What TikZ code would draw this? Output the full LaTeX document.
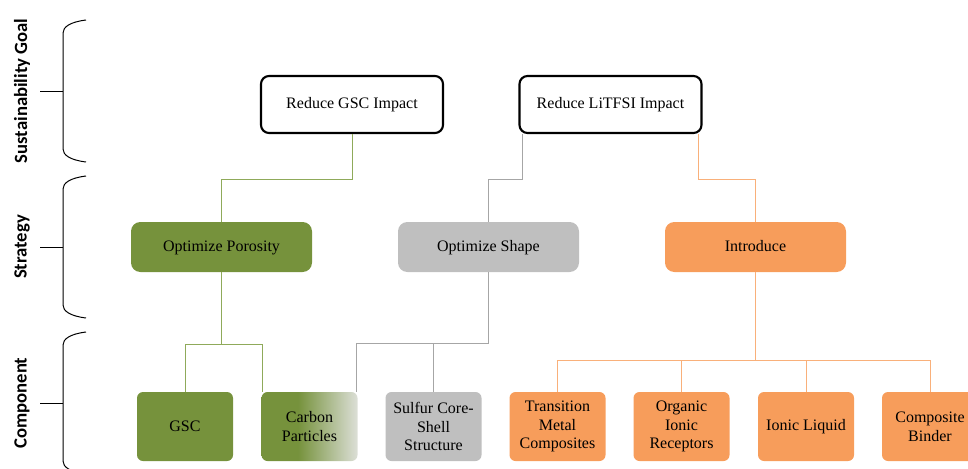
\documentclass[tikz,border=0pt]{standalone}
\usepackage{fontspec}
\setmainfont{Liberation Serif}
\newfontfamily\sidefont{Carlito}
\usepackage{xcolor}
\definecolor{grn}{HTML}{76923C}
\definecolor{grnline}{HTML}{8FAA5A}
\definecolor{gry}{HTML}{BFBFBF}
\definecolor{gryline}{HTML}{A6A6A6}
\definecolor{org}{HTML}{F79D5B}
\definecolor{orgline}{HTML}{F9B07A}
\definecolor{pale}{HTML}{DCDFD7}
\pgfdeclarehorizontalshading{carbonfade}{100bp}{color(0bp)=(grn); color(25bp)=(grn); color(44bp)=(grn); color(75bp)=(pale); color(100bp)=(pale)}

\begin{document}
\begin{tikzpicture}[x=0.75pt,y=-0.75pt]
					\tikzstyle{goal} = [draw=black,line width=1.6pt,rounded corners=6pt,minimum width=136.5pt,minimum height=42.75pt,inner sep=0pt,text height=8.5pt,text depth=2.5pt,font=\fontsize{12}{14}\selectfont]
					\tikzstyle{strat} = [rounded corners=7pt,minimum width=135.75pt,minimum height=37.5pt,inner sep=0pt,text height=8.5pt,text depth=2.5pt,font=\fontsize{12}{14}\selectfont]
					\tikzstyle{comp} = [rounded corners=4.5pt,minimum width=72pt,minimum height=51.75pt,inner sep=0pt,align=center,font=\fontsize{12}{14}\selectfont]
					\tikzstyle{side} = [rotate=90,font=\sidefont\bfseries\fontsize{14}{16}\selectfont]
					\tikzstyle{brace} = [draw=black,line width=0.75pt]
					\tikzstyle{gedge} = [draw=grnline,line width=0.75pt]
					\tikzstyle{sedge} = [draw=gryline,line width=0.75pt]
					\tikzstyle{oedge} = [draw=orgline,line width=0.75pt]
					\clip (0,0) rectangle (968,468);
					\node[side] (lgoal) at (22,91) {Sustainability Goal};
					\node[side] (lstrat) at (22,247) {Strategy};
					\node[side] (lcomp) at (22,403) {Component};
					\draw[brace] (86,20) .. controls (70,22) and (63,27) .. (63,33) -- (63,149) .. controls (63,155) and (70,160) .. (86,162);
					\draw[brace] (40,91) -- (63,91);
					\draw[brace] (86,176) .. controls (70,178) and (63,183) .. (63,189) -- (63,305) .. controls (63,311) and (70,316) .. (86,318);
					\draw[brace] (40,247) -- (63,247);
					\draw[brace] (86,332) .. controls (70,334) and (63,339) .. (63,345) -- (63,461) .. controls (63,467) and (70,472) .. (86,474);
					\draw[brace] (40,403) -- (63,403);
					\node[goal] (g1) at (352,104.5) {Reduce GSC Impact};
					\node[goal] (g2) at (610.5,104.5) {Reduce LiTFSI Impact};
					\node[strat,fill=grn] (s1) at (221.5,247) {Optimize Porosity};
					\node[strat,fill=gry] (s2) at (488.5,247) {Optimize Shape};
					\node[strat,fill=org] (s3) at (755.5,247) {Introduce};
					\node[comp,fill=grn] (c1) at (185,426.5) {GSC};
					\node[comp,shading=carbonfade] (c2) at (309.5,426.5) {Carbon\\Particles};
					\node[comp,fill=gry] (c3) at (433.5,426.5) {Sulfur Core-\\Shell\\Structure};
					\node[comp,fill=org] (c4) at (557.5,426.5) {Transition\\Metal\\Composites};
					\node[comp,fill=org] (c5) at (681.5,426.5) {Organic\\Ionic\\Receptors};
					\node[comp,fill=org] (c6) at (806,426.5) {Ionic Liquid};
					\node[comp,fill=org] (c7) at (930,426.5) {Composite\\Binder};
					\draw[gedge] (g1.south) -- ++(0,45) -| (s1.north);
					\draw[sedge] ([xshift=3pt]g2.south west) -- ++(0,45) -| (s2.north);
					\draw[oedge] ([xshift=-3pt]g2.south east) -- ++(0,45) -| (s3.north);
					\draw[gedge] (s1.south) -- ++(0,72) coordinate (pj);
					\draw[gedge] (c1.north) |- (pj) -| ([xshift=0.75pt]c2.north west);
					\draw[sedge] (s2.south) -- ++(0,71) coordinate (sj);
					\draw[sedge] ([xshift=-0.75pt]c2.north east) |- (sj);
					\draw[sedge] (sj) -| (c3.north);
					\draw[oedge] (s3.south) -- ++(0,88) coordinate (ij);
					\draw[oedge] (c4.north) |- (ij) -| (c7.north);
					\draw[oedge] (ij) -| (c5.north);
					\draw[oedge] (ij) -| (c6.north);
\end{tikzpicture}
\end{document}
